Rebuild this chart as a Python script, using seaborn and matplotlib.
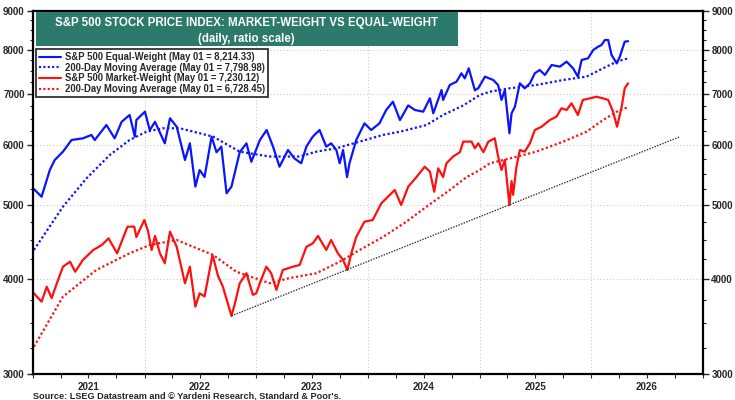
import matplotlib
matplotlib.use("Agg")
import pandas as pd
import matplotlib.pyplot as plt
import matplotlib.dates as mdates
from matplotlib.ticker import FixedLocator, NullFormatter, FuncFormatter
from matplotlib.patches import Rectangle
import seaborn as sns

# S&P 500 equal-weight index
ew_dates = ["2021-01-04", "2021-01-29", "2021-02-25", "2021-03-13", "2021-04-09", "2021-05-07",
            "2021-06-13", "2021-07-11", "2021-07-22", "2021-08-29", "2021-09-25", "2021-10-18",
            "2021-11-13", "2021-11-30", "2021-12-05", "2022-01-02", "2022-01-18", "2022-02-04",
            "2022-03-08", "2022-03-25", "2022-04-16", "2022-05-13", "2022-05-29", "2022-06-16",
            "2022-06-30", "2022-07-16", "2022-08-08", "2022-08-24", "2022-09-09", "2022-09-26",
            "2022-10-12", "2022-11-08", "2022-11-30", "2022-12-16", "2023-01-13", "2023-02-04",
            "2023-02-25", "2023-03-18", "2023-04-15", "2023-05-06", "2023-05-28", "2023-06-14",
            "2023-07-05", "2023-07-27", "2023-08-18", "2023-09-03", "2023-09-20", "2023-10-01",
            "2023-10-12", "2023-10-25", "2023-11-02", "2023-11-24", "2023-12-21", "2024-01-12",
            "2024-02-08", "2024-03-01", "2024-03-23", "2024-04-15", "2024-05-12", "2024-06-03",
            "2024-06-30", "2024-07-22", "2024-08-02", "2024-08-29", "2024-09-03", "2024-09-25",
            "2024-10-17", "2024-11-02", "2024-11-13", "2024-11-26", "2024-12-16", "2024-12-27",
            "2025-01-18", "2025-02-14", "2025-03-02", "2025-03-13", "2025-03-24", "2025-04-08",
            "2025-04-15", "2025-04-26", "2025-05-12", "2025-05-28", "2025-06-14", "2025-06-30",
            "2025-07-16", "2025-08-02", "2025-08-24", "2025-09-20", "2025-10-12", "2025-11-02",
            "2025-11-18", "2025-11-30", "2025-12-21", "2026-01-07", "2026-01-23", "2026-02-03",
            "2026-02-14", "2026-02-25", "2026-03-08", "2026-03-25", "2026-04-04", "2026-04-20",
            "2026-05-01"]
ew_vals = [5250, 5130, 5562, 5733, 5880, 6091,
           6122, 6184, 6091, 6374, 6122, 6437,
           6570, 6153, 6470, 6636, 6274, 6437,
           6030, 6505, 6340, 5733, 6030, 5289,
           5562, 5445, 6153, 5870, 5970, 5184,
           5289, 5870, 6030, 5703, 6091, 6278,
           5970, 5618, 5909, 5760, 5677, 5970,
           6153, 6278, 5970, 6030, 5909, 5677,
           5909, 5445, 5677, 6091, 6406, 6278,
           6406, 6670, 6839, 6470, 6763, 6670,
           6636, 6909, 6603, 7086, 6876, 7194,
           7267, 7454, 7340, 7567, 7080, 7123,
           7378, 7304, 7194, 6876, 7086, 6216,
           6603, 6737, 7231, 7123, 7231, 7454,
           7529, 7416, 7643, 7605, 7721, 7567,
           7378, 7760, 7799, 7998, 8078, 8119,
           8244, 8244, 7878, 7680, 7838, 8202,
           8214.33]

# 200-day moving average of the equal-weight index
ew_ma_dates = ["2021-01-04", "2021-04-09", "2021-06-25", "2021-09-09", "2021-11-13", "2022-01-07",
               "2022-03-02", "2022-04-26", "2022-08-13", "2022-11-08", "2023-01-13", "2023-02-14",
               "2023-05-23", "2023-07-17", "2023-09-20", "2023-12-05", "2024-02-19", "2024-04-15",
               "2024-07-11", "2024-09-03", "2024-11-08", "2025-01-01", "2025-02-03", "2025-04-09",
               "2025-07-05", "2025-10-01", "2025-12-16", "2026-02-08", "2026-03-25", "2026-05-01"]
ew_ma_vals = [4366, 4978, 5424, 5821, 6091, 6246,
              6311, 6311, 6153, 5880, 5821, 5794,
              5794, 5880, 5940, 6061, 6184, 6246,
              6374, 6570, 6763, 6979, 7050, 7123,
              7194, 7304, 7378, 7567, 7721, 7798.98]

# S&P 500 market-weight index
mw_dates = ["2021-01-04", "2021-01-29", "2021-02-15", "2021-03-03", "2021-03-20", "2021-04-09",
            "2021-05-02", "2021-05-19", "2021-06-13", "2021-07-17", "2021-08-14", "2021-09-05",
            "2021-10-03", "2021-11-06", "2021-11-28", "2021-12-05", "2021-12-31", "2022-01-12",
            "2022-01-24", "2022-02-04", "2022-02-20", "2022-03-08", "2022-03-25", "2022-04-16",
            "2022-05-13", "2022-05-29", "2022-06-16", "2022-06-30", "2022-07-16", "2022-08-11",
            "2022-08-29", "2022-09-14", "2022-10-12", "2022-10-23", "2022-11-08", "2022-11-30",
            "2022-12-21", "2023-01-01", "2023-01-17", "2023-02-03", "2023-02-19", "2023-03-08",
            "2023-03-29", "2023-05-01", "2023-05-23", "2023-06-14", "2023-07-05", "2023-07-22",
            "2023-08-18", "2023-09-03", "2023-09-25", "2023-10-12", "2023-10-26", "2023-11-08",
            "2023-11-24", "2023-12-21", "2024-01-17", "2024-02-14", "2024-03-07", "2024-03-29",
            "2024-04-19", "2024-05-12", "2024-06-08", "2024-07-05", "2024-07-22", "2024-08-05",
            "2024-08-18", "2024-09-03", "2024-09-14", "2024-10-06", "2024-10-28", "2024-11-08",
            "2024-12-05", "2024-12-16", "2024-12-27", "2025-01-13", "2025-01-29", "2025-02-19",
            "2025-03-02", "2025-03-13", "2025-03-24", "2025-04-08", "2025-04-15", "2025-04-20",
            "2025-05-01", "2025-05-12", "2025-05-28", "2025-06-14", "2025-06-30", "2025-07-22",
            "2025-08-18", "2025-09-09", "2025-09-25", "2025-10-12", "2025-10-28", "2025-11-18",
            "2025-12-04", "2025-12-27", "2026-01-17", "2026-02-08", "2026-02-25", "2026-03-13",
            "2026-03-26", "2026-04-10", "2026-04-20", "2026-05-01"]
mw_vals = [3830, 3734, 3907, 3775, 3948, 4151,
           4214, 4088, 4236, 4366, 4433, 4523,
           4323, 4686, 4686, 4541, 4781, 4626,
           4366, 4556, 4323, 4195, 4615, 4408,
           3948, 4151, 3678, 3830, 3794, 4301,
           4037, 3907, 3577, 3710, 3948, 4070,
           3812, 3830, 3990, 4151, 4070, 3870,
           4110, 4151, 4173, 4408, 4455, 4556,
           4366, 4500, 4323, 4236, 4110, 4323,
           4541, 4757, 4781, 5029, 5131, 5236,
           5003, 5289, 5445, 5618, 5535, 5209,
           5590, 5445, 5677, 5794, 5870, 6061,
           6061, 5940, 6030, 5870, 6061, 6122,
           5794, 5562, 5733, 5003, 5379, 5161,
           5618, 5909, 5880, 6030, 6278, 6340,
           6470, 6538, 6705, 6670, 6806, 6570,
           6876, 6909, 6943, 6909, 6876, 6636,
           6340, 6737, 7123, 7230.12]

# 200-day moving average of the market-weight index
mw_ma_dates = ["2021-01-04", "2021-04-09", "2021-07-27", "2021-11-13", "2022-01-18", "2022-04-16",
               "2022-08-13", "2022-10-28", "2023-01-13", "2023-02-14", "2023-04-20", "2023-07-17",
               "2023-10-01", "2023-12-05", "2024-02-19", "2024-05-06", "2024-07-11", "2024-09-25",
               "2024-11-19", "2025-01-01", "2025-02-03", "2025-04-09", "2025-07-05", "2025-10-01",
               "2025-12-16", "2026-02-08", "2026-03-25", "2026-05-01"]
mw_ma_vals = [3258, 3791, 4110, 4323, 4433, 4500,
              4301, 4088, 3990, 3948, 4011, 4070,
              4214, 4366, 4541, 4757, 4978, 5236,
              5445, 5562, 5677, 5760, 5880, 6061,
              6246, 6470, 6636, 6728.45]

# support line through the market-weight lows
trend_dates = ["2022-10-12", "2026-10-18"]
trend_vals = [3577, 6153]

y_ticks = [3000, 4000, 5000, 6000, 7000, 8000, 9000]

labels = ["S&P 500 Equal-Weight (May 01 = 8,214.33)",
          "200-Day Moving Average (May 01 = 7,798.98)",
          "S&P 500 Market-Weight (May 01 = 7,230.12)",
          "200-Day Moving Average (May 01 = 6,728.45)"]

sns.set_style("white")
plt.rcParams["font.family"] = ["Liberation Sans", "DejaVu Sans"]
plt.rcParams["font.weight"] = "bold"

BLUE = "#0a14ff"
RED = "#ff1010"
GREEN = "#2b7a6b"
DOT = (0, (1, 1.1))

fig = plt.figure(figsize=(7.35, 4.0), dpi=100)
ax = fig.add_axes([33 / 735, 26 / 400, 670 / 735, 363 / 400])

series = [
    (ew_dates, ew_vals, BLUE, "-", labels[0]),
    (ew_ma_dates, ew_ma_vals, BLUE, DOT, labels[1]),
    (mw_dates, mw_vals, RED, "-", labels[2]),
    (mw_ma_dates, mw_ma_vals, RED, DOT, labels[3]),
]
for dates, vals, col, ls, lab in series:
    d = pd.DataFrame({"date": pd.to_datetime(dates), "val": vals})
    sns.lineplot(data=d, x="date", y="val", ax=ax, color=col, linestyle=ls,
                 linewidth=1.6, label=lab)

tr = pd.DataFrame({"date": pd.to_datetime(trend_dates), "val": trend_vals})
sns.lineplot(data=tr, x="date", y="val", ax=ax, color="#333333", linestyle=(0, (1, 1)),
             linewidth=1.0, legend=False)

ax.set_yscale("log")
ax.set_ylim(3000, 9000)
ax.set_xlim(pd.Timestamp("2021-01-01"), pd.Timestamp("2027-01-01"))
ax.set_xlabel("")
ax.set_ylabel("")

# y ticks on both sides
ax.yaxis.set_major_locator(FixedLocator(y_ticks))
ax.yaxis.set_major_formatter(FuncFormatter(lambda v, p: f"{int(round(v))}"))
ax.yaxis.set_minor_locator(FixedLocator([v for v in range(3250, 9000, 250) if v % 1000]))
ax.yaxis.set_minor_formatter(NullFormatter())
ax.tick_params(axis="y", which="both", left=True, right=True, labelleft=True, labelright=True,
               direction="out", labelsize=7, pad=2)
ax.tick_params(axis="y", which="major", length=4, width=1)
ax.tick_params(axis="y", which="minor", length=2.5, width=0.8)

# x: year boundaries as major ticks, year labels at mid-year
ax.xaxis.set_major_locator(mdates.YearLocator())
ax.xaxis.set_major_formatter(NullFormatter())
ax.xaxis.set_minor_locator(mdates.MonthLocator(bymonth=[4, 7, 10]))
ax.xaxis.set_minor_formatter(FuncFormatter(
    lambda v, p: str(mdates.num2date(v).year) if mdates.num2date(v).month == 7 else ""))
ax.tick_params(axis="x", which="both", bottom=True, direction="out", length=3, width=0.8,
               labelsize=7, pad=3)

ax.grid(True, which="major", axis="both", color="#cccccc", linestyle=(0, (1, 2)), linewidth=0.8)
for s in ax.spines.values():
    s.set_color("black")
    s.set_linewidth(1.6)

# title box
ax.add_patch(Rectangle((0.004, 0.904), 0.63, 0.093, transform=ax.transAxes,
                       facecolor=GREEN, edgecolor="none", zorder=5))
ax.text(0.319, 0.966, "S&P 500 STOCK PRICE INDEX: MARKET-WEIGHT VS EQUAL-WEIGHT",
        transform=ax.transAxes, ha="center", va="center", color="white",
        fontsize=8.3, fontweight="bold", zorder=6)
ax.text(0.319, 0.922, "(daily, ratio scale)", transform=ax.transAxes, ha="center",
        va="center", color="white", fontsize=8.3, fontweight="bold", zorder=6)

leg = ax.legend(loc="upper left", bbox_to_anchor=(0.004, 0.895), frameon=True, fancybox=False,
                fontsize=6.85, handlelength=2.4, handletextpad=0.35, borderpad=0.3,
                labelspacing=0.08, borderaxespad=0)
leg.get_frame().set_edgecolor("black")
leg.get_frame().set_linewidth(1.3)
leg.set_zorder(7)
for t in leg.get_texts():
    t.set_fontweight("bold")
for h in leg.get_lines():
    h.set_linewidth(1.5)

fig.text(33 / 735, 0.0, "Source: LSEG Datastream and \u00a9 Yardeni Research, Standard & Poor's.",
         ha="left", va="bottom", fontsize=6.6, fontweight="bold")

fig.savefig("out.png", dpi=100)
